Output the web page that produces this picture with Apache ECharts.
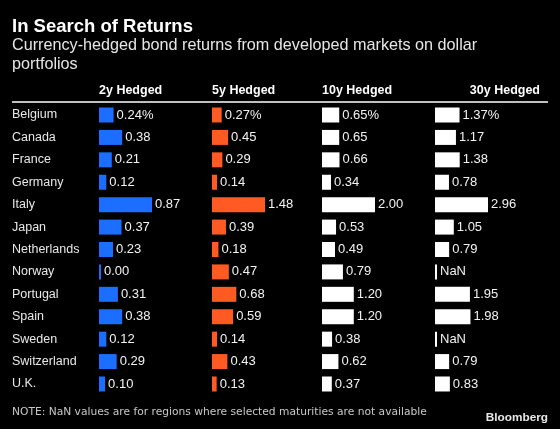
<!DOCTYPE html>
<html>
<head>
<meta charset="utf-8">
<script src="https://cdn.jsdelivr.net/npm/echarts@6/dist/echarts.min.js"></script>
<style>
html,body{margin:0;padding:0;background:#000;}
#c{width:560px;height:429px;}
</style>
</head>
<body>
<div id="c"></div>
<script>
var countries = ['Belgium','Canada','France','Germany','Italy','Japan','Netherlands','Norway','Portugal','Spain','Sweden','Switzerland','U.K.'];
var columns = ['2y Hedged','5y Hedged','10y Hedged','30y Hedged'];
var hedged2y  = [0.24,0.38,0.21,0.12,0.87,0.37,0.23,0.00,0.31,0.38,0.12,0.29,0.10];
var hedged5y  = [0.27,0.45,0.29,0.14,1.48,0.39,0.18,0.47,0.68,0.59,0.14,0.43,0.13];
var hedged10y = [0.65,0.65,0.66,0.34,2.00,0.53,0.49,0.79,1.20,1.20,0.38,0.62,0.37];
var hedged30y = [1.37,1.17,1.38,0.78,2.96,1.05,0.79,null,1.95,1.98,null,0.79,0.83];
var seriesValues = [hedged2y, hedged5y, hedged10y, hedged30y];
var colors = ['#1b6eff','#ff5a23','#ffffff','#ffffff'];

var chart = echarts.init(document.getElementById('c'), null, {renderer:'canvas'});
var FONT = '"Liberation Sans", Arial, sans-serif';
var lefts = [99, 212, 322, 435];
var barSpan = 53;
var top0 = 103.8, h0 = 291.4;

var grids = [], xAxes = [], yAxes = [], series = [];
seriesValues.forEach(function(vals, i){
  var mx = Math.max.apply(null, vals.filter(function(v){return v!==null;}));
  grids.push({left: lefts[i], top: top0, width: barSpan, height: h0, containLabel:false});
  xAxes.push({type:'value', gridIndex:i, min:0, max:mx, show:false});
  yAxes.push({type:'category', gridIndex:i, data:countries, inverse:true,
    axisLine:{show:false}, axisTick:{show:false}, splitLine:{show:false},
    axisLabel: i===0 ? {show:true, align:'left', margin:87, color:'#e8e8e8', fontSize:12.5, fontFamily:FONT} : {show:false}
  });
  series.push({
    type:'bar', xAxisIndex:i, yAxisIndex:i, barWidth:15, barMinHeight: 2,
    itemStyle:{color:colors[i]},
    data: vals.map(function(v){ return v===null ? 0 : v; }),
    label:{show:true, position:'right', distance:3, color:'#f2f2f2', fontSize:13, fontFamily:FONT,
      formatter:function(p){
        var v = vals[p.dataIndex];
        if (v===null) return 'NaN';
        return v.toFixed(2) + (p.dataIndex===0 ? '%' : '');
      }},
    animation:false
  });
});

var graphics = [
  {type:'text', left:12, top:17.5, style:{text:'In Search of Returns', fill:'#fff', font:'bold 18.5px '+FONT}},
  {type:'text', left:12, top:36, style:{text:'Currency-hedged bond returns from developed markets on dollar\nportfolios', fill:'#e6e6e6', font:'16.2px '+FONT, lineHeight:19}},
  {type:'line', shape:{x1:12, y1:102, x2:548, y2:102}, style:{stroke:'#fff', lineWidth:1.5}},
  {type:'text', left:12, top:407, style:{text:'NOTE: NaN values are for regions where selected maturities are not available', fill:'#c8c8c8', font:'10.7px "DejaVu Sans", sans-serif'}},
  {type:'text', right:12, top:412, style:{text:'Bloomberg', fill:'#e8e8e8', font:'bold 11.8px '+FONT}}
];
columns.forEach(function(c, i){
  if (i===3) {
    graphics.push({type:'text', right:20, top:84.5, style:{text:c, fill:'#fff', font:'bold 12.5px '+FONT}});
  } else {
    graphics.push({type:'text', left:lefts[i], top:84.5, style:{text:c, fill:'#fff', font:'bold 12.5px '+FONT}});
  }
});

chart.setOption({
  backgroundColor:'#000',
  animation:false,
  grid:grids, xAxis:xAxes, yAxis:yAxes, series:series,
  graphic:graphics
});
</script>
</body>
</html>
